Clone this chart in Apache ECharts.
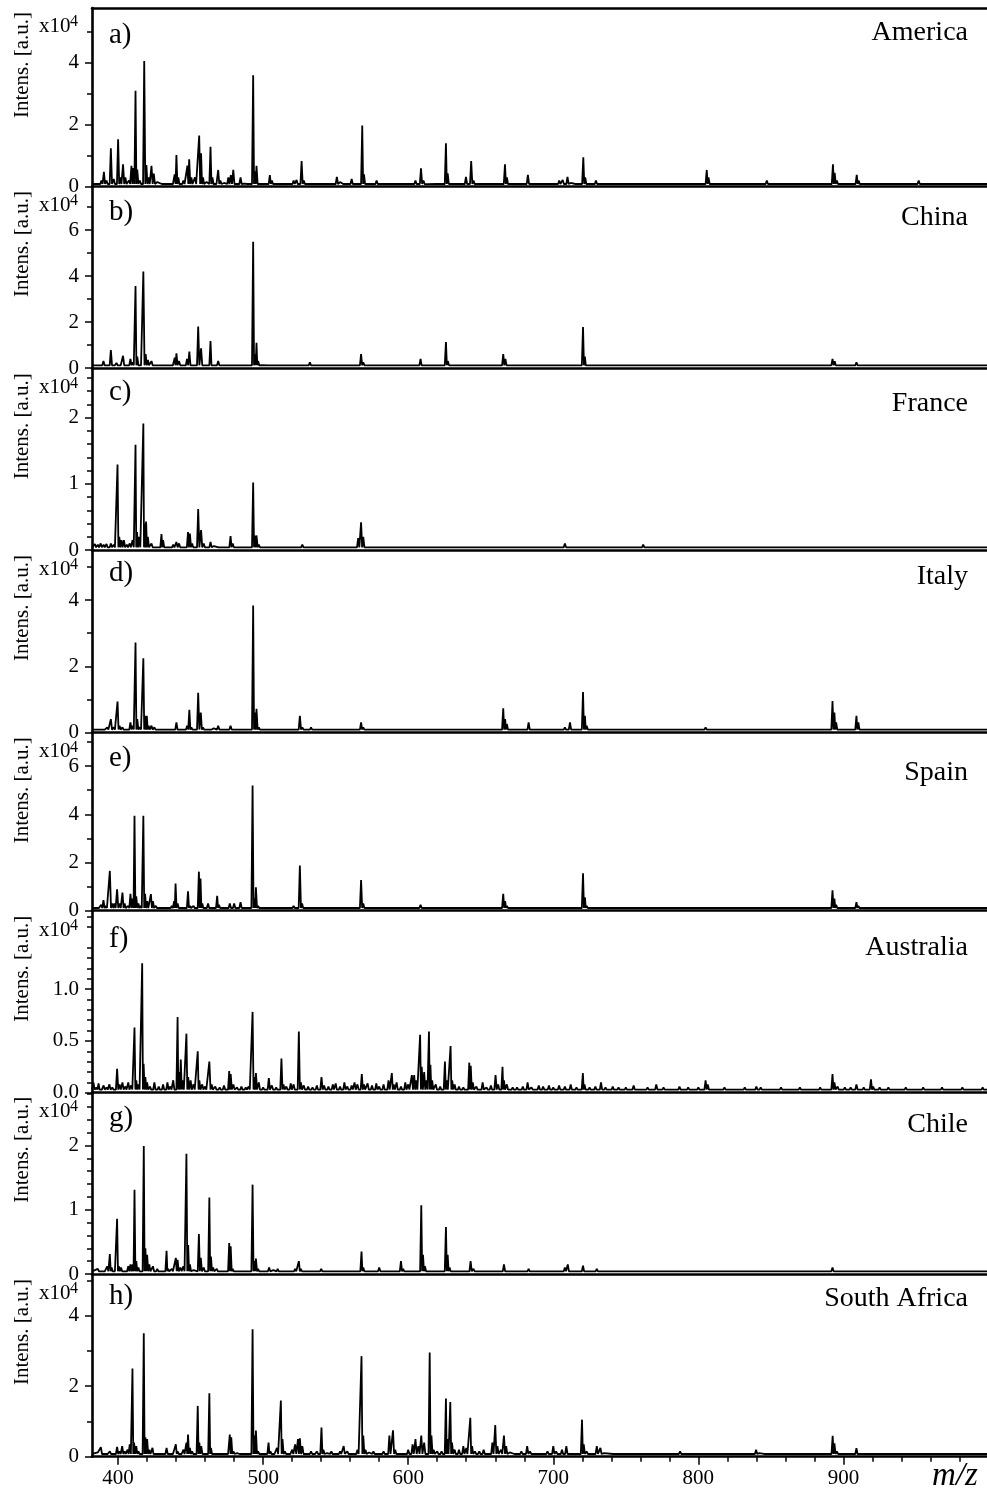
<!DOCTYPE html>
<html>
<head>
<meta charset="utf-8">
<script src="https://cdn.jsdelivr.net/npm/echarts@6/dist/echarts.min.js"></script>
<style>
  html, body { margin: 0; padding: 0; background: #fff; }
  #chart { width: 987px; height: 1495px; }
</style>
</head>
<body>
<div id="chart"></div>
<script>
// ---------- data: MALDI spectra, peaks as [m/z, intensity (x10^4 a.u.)] ----------
const mzMin = 382;
const mzMax = 999;
const xTickValues = [400, 500, 600, 700, 800, 900];
const xMinorTickValues = [400, 420, 440, 460, 480, 500, 520, 540, 560, 580, 600, 620, 640, 660, 680, 700,
  720, 740, 760, 780, 800, 820, 840, 860, 880, 900, 920, 940, 960, 980];

const countries = ['America', 'China', 'France', 'Italy', 'Spain', 'Australia', 'Chile', 'South Africa'];
const panelLetters = ['a)', 'b)', 'c)', 'd)', 'e)', 'f)', 'g)', 'h)'];
const yMaxima = [5.76, 7.87, 2.73, 5.49, 7.36, 1.747, 2.82, 5.15];
const yTickValues = [[0, 2, 4], [0, 2, 4, 6], [0, 1, 2], [0, 2, 4], [0, 2, 4, 6], [0, 0.5, 1.0], [0, 1, 2], [0, 2, 4]];
const yIntervals = [2, 2, 1, 2, 2, 0.5, 1, 2];
const yMinorSplits = [2, 2, 5, 2, 2, 5, 5, 2];
const baselineLevels = [0.087, 0.117, 0.04, 0.082, 0.112, 0.03, 0.042, 0.077];

const americaPeaks = [[388.5,0.2],[390.2,0.48],[392,0.2],[395,1.24],[397,0.25],[400,1.53],[401.5,0.3],[403.4,0.72],[405,0.3],[407.5,0.2],[409.2,0.67],[410.5,0.6],[412,3.09],[413.2,0.55],[415,0.2],[418,4.05],[419.5,0.7],[421,0.3],[423,0.67],[424.6,0.42],[427,0.15],[431,0.12],[434,0.1],[437,0.15],[439,0.4],[440.2,1.02],[441.5,0.3],[445,0.2],[447.8,0.68],[449,0.88],[450.5,0.3],[453,0.3],[455.9,1.65],[457.2,1.08],[458.5,0.3],[461,0.15],[463.7,1.29],[465,0.3],[467,0.15],[469,0.54],[470.5,0.2],[473,0.12],[476,0.3],[477.7,0.37],[479.4,0.54],[481,0.15],[484.4,0.3],[487,0.1],[490,0.12],[493.1,3.59],[494.3,0.5],[495.4,0.67],[497,0.15],[500,0.1],[504.6,0.37],[506,0.2],[508,0.15],[511,0.1],[514,0.1],[518,0.12],[521,0.2],[523,0.22],[526.5,0.83],[528,0.2],[531,0.1],[535,0.08],[540,0.1],[544,0.08],[547,0.15],[550.8,0.32],[553,0.15],[556,0.08],[561,0.25],[563,0.12],[568.3,1.97],[569.5,0.4],[571,0.15],[574,0.08],[578.2,0.2],[583,0.06],[587.9,0.1],[594,0.15],[596,0.15],[598,0.12],[600,0.15],[602,0.1],[605,0.2],[608.8,0.59],[610.5,0.2],[613,0.08],[620,0.06],[626,1.4],[627.2,0.43],[629,0.15],[633,0.06],[639.8,0.32],[643.4,0.83],[645,0.2],[647,0.1],[650,0.08],[656,0.06],[661,0.08],[666.7,0.72],[668,0.3],[670,0.1],[675,0.06],[682.5,0.38],[684.5,0.15],[690,0.06],[698.9,0.1],[704.1,0.2],[706.5,0.22],[709.8,0.32],[712,0.12],[716,0.1],[720.7,0.95],[722,0.3],[724,0.12],[729.4,0.2],[733,0.08],[735,0.08],[745,0.05],[756.3,0.1],[762,0.05],[771.3,0.15],[775,0.1],[787.4,0.15],[795,0.05],[805.8,0.54],[807,0.3],[818,0.08],[830,0.05],[840.3,0.15],[847.2,0.2],[855.4,0.1],[865.7,0.08],[880,0.05],[892.8,0.72],[894,0.45],[895.5,0.2],[909.2,0.38],[910.5,0.2],[921.9,0.08],[935.6,0.08],[940,0.08],[951.9,0.2],[953.5,0.1],[970,0.05],[985.2,0.08]];

const chinaPeaks = [[386,0.15],[389.9,0.3],[392,0.15],[395,0.78],[397,0.2],[398.9,0.22],[401,0.15],[403.4,0.53],[405,0.2],[408.5,0.4],[410,0.25],[412,3.56],[413.2,0.5],[415,0.2],[417.4,4.19],[419,0.6],[420.5,0.35],[423,0.3],[425,0.2],[428,0.12],[432,0.12],[437,0.15],[439,0.45],[440.2,0.64],[442,0.3],[444,0.15],[447.5,0.4],[449.1,0.71],[451,0.2],[455.2,1.8],[457.2,0.86],[459,0.2],[463.7,1.17],[465,0.2],[469,0.3],[472,0.12],[477,0.12],[480,0.12],[484,0.1],[493.1,5.49],[494.3,0.6],[495.4,1.1],[496.5,0.3],[499,0.12],[505,0.12],[511,0.1],[525.3,0.15],[532.2,0.25],[534,0.12],[540,0.1],[547,0.2],[551,0.12],[560,0.1],[567.5,0.6],[569,0.25],[578,0.15],[588,0.1],[600,0.1],[608.5,0.4],[610,0.15],[626,1.13],[627.3,0.3],[643,0.15],[665.5,0.6],[667,0.4],[668.5,0.2],[683,0.2],[700,0.1],[709,0.12],[720.5,1.78],[721.8,0.5],[723,0.2],[730,0.08],[805,0.1],[840,0.08],[847,0.06],[892.5,0.4],[894,0.3],[895.5,0.15],[909,0.25],[910.5,0.1],[950,0.06]];

const francePeaks = [[384,0.09],[386,0.08],[388,0.1],[390,0.08],[392,0.09],[395,0.1],[397,0.08],[399.6,1.29],[400.8,0.2],[402.3,0.15],[404,0.15],[406,0.08],[408,0.1],[410,0.15],[412,1.59],[413,0.27],[414.5,0.2],[417.4,1.91],[418.3,0.4],[419.3,0.43],[420.5,0.2],[423,0.1],[425,0.06],[429.9,0.24],[431,0.15],[434,0.06],[438,0.08],[440.2,0.12],[442,0.1],[448.2,0.27],[449.5,0.25],[451,0.1],[455.2,0.62],[457.2,0.3],[459,0.1],[463.7,0.12],[466,0.06],[470,0.05],[477.5,0.21],[479,0.1],[485,0.05],[490,0.05],[493.1,1.02],[494.3,0.22],[495.4,0.22],[497,0.08],[503,0.06],[508,0.05],[515,0.05],[520,0.06],[527,0.08],[533,0.05],[540,0.05],[548,0.05],[556,0.05],[565.5,0.18],[567.5,0.42],[569,0.2],[572,0.06],[580,0.05],[590,0.04],[598,0.06],[604,0.06],[610,0.05],[615,0.06],[622,0.05],[630,0.05],[640,0.05],[645,0.06],[652,0.05],[658,0.05],[666,0.06],[672,0.05],[680,0.05],[690,0.05],[697,0.04],[708,0.1],[710,0.07],[716,0.05],[722,0.05],[728,0.05],[735,0.06],[741,0.06],[748,0.05],[755,0.05],[762,0.08],[770,0.05],[778,0.05],[787,0.06],[795,0.06],[805,0.05],[812,0.04],[820,0.05],[832,0.04],[840,0.05],[848,0.04],[858,0.05],[868,0.04],[880,0.04],[892,0.06],[900,0.04],[912,0.05],[925,0.04],[938,0.06],[946,0.05],[955,0.06],[962,0.06],[970,0.07],[978,0.07],[985,0.07],[993,0.07]];

const italyPeaks = [[388,0.12],[390,0.12],[392.5,0.15],[395,0.4],[397,0.15],[399.6,0.93],[401,0.2],[403,0.15],[408.5,0.3],[410,0.2],[412,2.72],[413.2,0.4],[415,0.15],[417.4,2.24],[418.6,0.5],[419.8,0.5],[421,0.2],[423,0.2],[425,0.15],[428,0.1],[440.2,0.3],[442,0.12],[447.6,0.2],[449.1,0.68],[450.5,0.15],[455.2,1.2],[457,0.6],[458.5,0.15],[463.7,0.12],[466,0.12],[469,0.2],[477.5,0.2],[484,0.1],[493.1,3.84],[494.3,0.6],[495.4,0.71],[497,0.15],[505,0.1],[511,0.08],[525.3,0.5],[527,0.15],[533,0.15],[560,0.1],[567.5,0.3],[569,0.15],[583,0.08],[609,0.1],[626,0.12],[642,0.08],[665.5,0.73],[666.8,0.4],[668,0.25],[683,0.3],[685,0.12],[708,0.15],[711.5,0.3],[720.5,1.22],[721.8,0.5],[723,0.2],[805,0.15],[840,0.12],[847,0.08],[892.5,0.95],[893.8,0.6],[895,0.3],[909,0.5],[910.3,0.3],[935,0.06]];

const spainPeaks = [[386,0.15],[388.3,0.25],[389.9,0.44],[391.5,0.2],[394.3,1.65],[396,0.3],[397.5,0.3],[399.3,0.89],[401,0.3],[403,0.75],[404.5,0.3],[407,0.2],[408.5,0.7],[410,0.5],[411.3,3.94],[412.5,0.6],[414,0.3],[415.5,0.2],[417.4,3.94],[418.6,0.7],[420,0.4],[422.6,0.69],[424,0.4],[426,0.2],[429,0.15],[433,0.15],[437,0.2],[438.6,0.4],[439.6,1.13],[441,0.3],[444,0.15],[448.2,0.8],[449.5,0.2],[452,0.2],[455.7,1.62],[456.8,1.34],[458,0.3],[462,0.3],[465,0.15],[468.3,0.62],[469.5,0.25],[473,0.15],[477,0.3],[480,0.3],[484.4,0.35],[487,0.12],[492.7,5.19],[494,0.5],[495,0.97],[496.5,0.2],[500,0.15],[505,0.15],[510,0.12],[517,0.15],[521,0.2],[525.3,1.87],[526.8,0.3],[529,0.12],[533,0.15],[537,0.12],[541,0.15],[545,0.12],[549,0.15],[553,0.12],[558,0.12],[562,0.15],[567.5,1.27],[569,0.3],[572,0.15],[576,0.12],[580,0.12],[586,0.12],[595,0.15],[600,0.12],[608.5,0.25],[610,0.15],[618,0.12],[626,0.15],[643,0.15],[652,0.12],[665.5,0.7],[666.8,0.4],[668,0.2],[683,0.15],[700,0.12],[712,0.15],[720.5,1.55],[721.8,0.55],[723,0.2],[770,0.15],[805,0.12],[840,0.15],[842,0.12],[892.5,0.85],[893.8,0.5],[895,0.25],[909,0.35],[910.3,0.2],[940,0.12]];

const australiaPeaks = [[383,0.1],[385,0.05],[386.5,0.09],[388,0.04],[390,0.07],[392,0.05],[394,0.08],[396,0.05],[399.3,0.23],[401,0.08],[403,0.1],[405,0.06],[407,0.1],[409,0.07],[411.3,0.63],[412.5,0.12],[414,0.08],[416.6,1.25],[417.6,0.28],[418.8,0.15],[420,0.1],[422,0.06],[425,0.1],[428,0.06],[431,0.08],[434,0.1],[436,0.06],[438,0.12],[441,0.73],[442,0.2],[443.2,0.32],[444.5,0.12],[447.1,0.57],[448.3,0.15],[450,0.12],[452,0.08],[454.9,0.4],[456,0.12],[458,0.08],[460,0.06],[462.9,0.3],[464.5,0.08],[467,0.06],[470,0.05],[473,0.07],[476.6,0.21],[477.6,0.18],[479.5,0.08],[482,0.05],[485,0.06],[488,0.05],[490,0.06],[492.7,0.78],[494,0.15],[495,0.19],[497,0.1],[500,0.05],[503.9,0.14],[506,0.07],[509,0.05],[512.6,0.33],[514,0.08],[516,0.06],[519,0.09],[521,0.08],[524.6,0.59],[526,0.1],[528,0.07],[531,0.06],[534,0.05],[537,0.07],[540.2,0.15],[542,0.07],[545,0.06],[548,0.08],[550,0.09],[553,0.06],[556,0.1],[558,0.06],[561,0.07],[563,0.1],[565,0.08],[568,0.18],[569.5,0.08],[572,0.09],[575,0.07],[578,0.09],[580,0.06],[583,0.08],[586.4,0.12],[588.7,0.19],[590,0.08],[592,0.1],[595,0.06],[598,0.1],[600,0.08],[602.5,0.17],[604.1,0.17],[605.5,0.12],[608.2,0.56],[609.3,0.25],[611,0.2],[612.5,0.12],[614.3,0.59],[615.3,0.27],[616.5,0.12],[619,0.08],[622,0.06],[625.3,0.3],[626.5,0.12],[629.2,0.45],[630.3,0.12],[632,0.08],[635,0.06],[638,0.05],[642.1,0.29],[643.1,0.26],[644.5,0.1],[647,0.06],[651.3,0.1],[654,0.05],[657,0.07],[660.2,0.17],[662,0.08],[665,0.25],[666,0.12],[668,0.08],[672,0.05],[675,0.05],[679,0.06],[682.3,0.1],[685,0.05],[690,0.07],[693,0.06],[697,0.07],[700,0.05],[704,0.07],[708,0.06],[712,0.08],[716,0.05],[720.4,0.19],[721.5,0.08],[725,0.05],[729,0.06],[732.9,0.1],[736,0.05],[741,0.06],[745,0.05],[750,0.05],[755.4,0.07],[760,0.04],[765,0.05],[771,0.08],[776,0.05],[782,0.04],[787,0.06],[793,0.05],[800,0.05],[805,0.12],[806.5,0.08],[812,0.04],[818,0.05],[825,0.04],[832,0.05],[840,0.06],[843,0.05],[850,0.04],[857,0.05],[863,0.04],[870,0.05],[876,0.04],[884,0.05],[892.5,0.18],[893.8,0.1],[896,0.06],[901,0.05],[905,0.05],[909,0.08],[914,0.05],[919,0.13],[920.5,0.06],[925,0.05],[931,0.05],[937,0.04],[943,0.05],[949,0.04],[955,0.05],[962,0.04],[968,0.05],[975,0.04],[982,0.05],[990,0.04],[996,0.05]];

const chilePeaks = [[384,0.06],[386,0.08],[388,0.07],[390,0.06],[392.5,0.12],[394.3,0.31],[395.5,0.1],[397,0.06],[399.3,0.86],[400.5,0.12],[402,0.1],[404,0.06],[407,0.12],[408.5,0.15],[410,0.15],[411.3,1.31],[412.5,0.2],[414,0.1],[417.7,1.99],[418.8,0.4],[420,0.3],[421.5,0.15],[424,0.12],[427,0.08],[430,0.07],[433.4,0.36],[434.5,0.08],[437,0.08],[439.8,0.25],[441,0.22],[443,0.1],[445,0.12],[447.1,1.87],[448.3,0.45],[449.5,0.15],[452,0.06],[455.7,0.62],[457,0.25],[459,0.1],[462.9,1.19],[464,0.27],[465.5,0.1],[468,0.08],[471,0.05],[476.6,0.48],[477.6,0.43],[479,0.08],[484,0.05],[492.7,1.39],[494,0.2],[495,0.24],[496.5,0.08],[504.1,0.1],[507,0.06],[510,0.08],[515,0.05],[519,0.06],[522,0.08],[524.6,0.2],[526,0.08],[530,0.05],[535,0.05],[540,0.08],[545,0.05],[551,0.05],[556,0.06],[561,0.05],[567.8,0.35],[569,0.1],[575,0.05],[580,0.1],[582,0.06],[590,0.05],[595,0.2],[596.5,0.08],[600,0.05],[604,0.06],[609,1.07],[610.2,0.3],[611.5,0.12],[615,0.06],[620,0.05],[626,0.73],[627.2,0.3],[628.5,0.1],[633,0.05],[638,0.06],[643,0.2],[645,0.08],[650,0.05],[656,0.05],[666,0.15],[668,0.06],[675,0.05],[683,0.08],[690,0.05],[700,0.05],[708,0.1],[710,0.15],[712,0.06],[720.5,0.13],[722,0.06],[730,0.08],[740,0.04],[755,0.06],[770,0.05],[787,0.05],[805,0.06],[840,0.05],[847,0.04],[892.5,0.1],[894,0.06],[909,0.06],[920,0.04]];

const southAfricaPeaks = [[384,0.1],[386,0.12],[388.1,0.27],[390,0.12],[392,0.1],[394.3,0.15],[396,0.1],[399.3,0.28],[401,0.15],[402.8,0.3],[404.5,0.15],[406.5,0.2],[408,0.35],[409.9,2.5],[411,0.4],[412.5,0.3],[414,0.15],[417.7,3.5],[418.8,0.55],[420,0.5],[421.5,0.2],[423.7,0.25],[425,0.12],[428,0.1],[430,0.1],[433.4,0.25],[435,0.1],[437,0.12],[439.8,0.35],[441,0.15],[443,0.12],[445,0.2],[447.1,0.4],[448.2,0.63],[449.5,0.25],[451,0.15],[454.9,1.44],[456,0.4],[457.3,0.3],[459,0.12],[462.9,1.8],[464,0.25],[465.5,0.1],[468,0.08],[471,0.1],[475,0.12],[477,0.63],[478,0.55],[479.5,0.15],[482,0.1],[484.5,0.12],[488,0.08],[492.7,3.61],[494,0.6],[495,0.74],[496.5,0.15],[500,0.08],[503.7,0.4],[505,0.15],[507,0.12],[509.5,0.25],[512.2,1.59],[513.3,0.5],[515,0.15],[518,0.12],[520,0.2],[522,0.35],[524,0.5],[525.3,0.52],[527,0.3],[530,0.12],[533,0.15],[535,0.12],[537,0.15],[540.2,0.83],[541.5,0.2],[544,0.1],[547,0.15],[550,0.12],[553,0.15],[555.5,0.3],[558,0.15],[561,0.12],[565,0.2],[567.8,2.85],[569,0.6],[570.5,0.2],[573,0.12],[576,0.15],[580,0.12],[583,0.15],[587,0.6],[589.5,0.75],[591,0.2],[594,0.12],[597,0.12],[600,0.2],[603,0.35],[605,0.5],[607,0.3],[609,0.6],[611,0.4],[614.8,2.95],[616,0.6],[617.5,0.2],[620,0.15],[623,0.15],[626,1.65],[627,0.5],[629,1.55],[630.2,0.4],[632,0.2],[635,0.2],[638,0.3],[640,0.25],[642.8,1.1],[644,0.3],[646,0.15],[649,0.15],[652,0.2],[655,0.12],[658,0.4],[660,0.9],[661.5,0.3],[664,0.2],[666,0.6],[667.5,0.3],[670,0.12],[674,0.12],[678,0.15],[682,0.3],[684,0.15],[688,0.12],[692,0.12],[696,0.15],[700,0.3],[702,0.15],[706,0.2],[709,0.3],[712,0.12],[716,0.12],[719.8,1.05],[721,0.35],[723,0.15],[727,0.1],[730,0.3],[732.5,0.25],[735,0.1],[742,0.06],[755,0.08],[771.4,0.1],[775,0.08],[787.4,0.15],[795,0.06],[803,0.06],[815,0.06],[839.8,0.2],[842,0.1],[846,0.1],[855.4,0.1],[862,0.06],[877,0.06],[892.6,0.59],[893.8,0.38],[895.5,0.15],[909,0.24],[910.5,0.1],[918,0.06],[935,0.06],[947,0.05]];

const spectra = [americaPeaks, chinaPeaks, francePeaks, italyPeaks, spainPeaks, australiaPeaks, chilePeaks, southAfricaPeaks];

// ---------- layout ----------
const PANEL_TOP = [8, 187, 369.3, 551, 733.3, 911.7, 1092.7, 1275];
const PANEL_BOTTOM = [186.7, 368, 550, 732.3, 910.7, 1092.7, 1274, 1456.7];
const LETTER_Y = [35.5, 212, 392, 573, 758, 939, 1118, 1296];
const COUNTRY_Y = [33, 218, 404, 577, 773, 948, 1125, 1299];
const PLOT_LEFT = 92;
const SERIF = '"Liberation Serif", "Times New Roman", Times, serif';
const PEAK_HALF_WIDTH = 0.8; // m/z units at each side of a centroid

// Turn a centroid peak list into a stick-like trace sitting on the noise floor.
function buildTrace(peaks, floor) {
  const sorted = peaks.slice().sort((a, b) => a[0] - b[0]);
  const pts = [[mzMin, floor]];
  let lastX = mzMin;
  sorted.forEach(([mz, h], k) => {
    const left = mz - PEAK_HALF_WIDTH;
    if (left > lastX) pts.push([left, floor]);
    pts.push([mz, h]);
    const next = sorted[k + 1];
    const right = mz + PEAK_HALF_WIDTH;
    if (next && next[0] - PEAK_HALF_WIDTH < right) {
      const mid = (mz + next[0]) / 2;
      pts.push([mid, floor]);
      lastX = mid;
    } else {
      pts.push([right, floor]);
      lastX = right;
    }
  });
  pts.push([mzMax, floor]);
  return pts;
}

const grids = [], xAxes = [], yAxes = [], series = [], graphics = [];
const axisColor = '#000';

spectra.forEach((peaks, i) => {
  const isLast = i === spectra.length - 1;
  grids.push({
    left: PLOT_LEFT, right: 0,
    top: PANEL_TOP[i], height: PANEL_BOTTOM[i] - PANEL_TOP[i]
  });

  const xIdx = xAxes.length;
  xAxes.push({
    type: 'value', gridIndex: i, min: mzMin, max: mzMax, position: 'bottom',
    axisLine: { show: true, onZero: false, lineStyle: { color: axisColor, width: 2.6 } },
    axisTick: { show: isLast, length: 5, customValues: xMinorTickValues, lineStyle: { color: axisColor, width: 1.5 } },
    axisLabel: {
      show: isLast, customValues: xTickValues, margin: 11,
      fontFamily: SERIF, fontSize: 21, color: '#000'
    },
    splitLine: { show: false }
  });
  if (isLast) {
    // longer ticks at the labelled m/z values
    xAxes.push({
      type: 'value', gridIndex: i, min: mzMin, max: mzMax, position: 'bottom',
      axisLine: { show: false },
      axisTick: { show: true, length: 8, customValues: xTickValues, lineStyle: { color: axisColor, width: 1.5 } },
      axisLabel: { show: false },
      splitLine: { show: false }
    });
  }
  if (i === 0) {
    // frame line along the top of the first panel
    xAxes.push({
      type: 'value', gridIndex: i, min: mzMin, max: mzMax, position: 'top',
      axisLine: { show: true, onZero: false, lineStyle: { color: axisColor, width: 2.6 } },
      axisTick: { show: false }, axisLabel: { show: false }, splitLine: { show: false }
    });
  }

  const oneDecimal = yTickValues[i].some(v => v % 1 !== 0);
  yAxes.push({
    type: 'value', gridIndex: i, min: 0, max: yMaxima[i], interval: yIntervals[i],
    axisLine: { show: true, onZero: false, lineStyle: { color: axisColor, width: 2.6 } },
    axisTick: { show: true, length: 7, customValues: yTickValues[i], lineStyle: { color: axisColor, width: 1.5 } },
    minorTick: { show: true, splitNumber: yMinorSplits[i], length: 5, lineStyle: { color: axisColor, width: 1.5 } },
    axisLabel: {
      customValues: yTickValues[i], margin: 13,
      fontFamily: SERIF, fontSize: 21, color: '#000',
      formatter: v => oneDecimal ? v.toFixed(1) : String(v)
    },
    splitLine: { show: false }
  });

  series.push({
    type: 'line', xAxisIndex: xIdx, yAxisIndex: i,
    data: buildTrace(peaks, baselineLevels[i]),
    symbol: 'none', silent: true, clip: true,
    lineStyle: { color: '#000', width: 1.8 }
  });

  const T = PANEL_TOP[i];
  graphics.push(
    { type: 'text', x: 22, y: T + 57, rotation: Math.PI / 2,
      style: { text: 'Intens. [a.u.]', fontFamily: SERIF, fontSize: 21, fill: '#000',
               textAlign: 'center', textVerticalAlign: 'middle' } },
    { type: 'text', x: 39, y: T + 18.5,
      style: { text: 'x10', fontFamily: SERIF, fontSize: 21, fill: '#000',
               textAlign: 'left', textVerticalAlign: 'middle' } },
    { type: 'text', x: 70, y: T + 14,
      style: { text: '4', fontFamily: SERIF, fontSize: 16, fill: '#000',
               textAlign: 'left', textVerticalAlign: 'middle' } },
    { type: 'text', x: 109, y: LETTER_Y[i],
      style: { text: panelLetters[i], fontFamily: SERIF, fontSize: 29, fill: '#000',
               textAlign: 'left', textVerticalAlign: 'middle' } },
    { type: 'text', x: 968, y: COUNTRY_Y[i],
      style: { text: countries[i], fontFamily: SERIF, fontSize: 28, fill: '#000',
               textAlign: 'right', textVerticalAlign: 'middle' } }
  );
});

graphics.push({
  type: 'text', x: 955, y: 1476,
  style: { text: 'm/z', fontFamily: SERIF, fontStyle: 'italic', fontSize: 33, fill: '#000',
           textAlign: 'center', textVerticalAlign: 'middle' }
});

const chart = echarts.init(document.getElementById('chart'), null, { renderer: 'canvas' });
chart.setOption({
  backgroundColor: '#fff',
  animation: false,
  grid: grids,
  xAxis: xAxes,
  yAxis: yAxes,
  series: series,
  graphic: graphics
});
</script>
</body>
</html>
